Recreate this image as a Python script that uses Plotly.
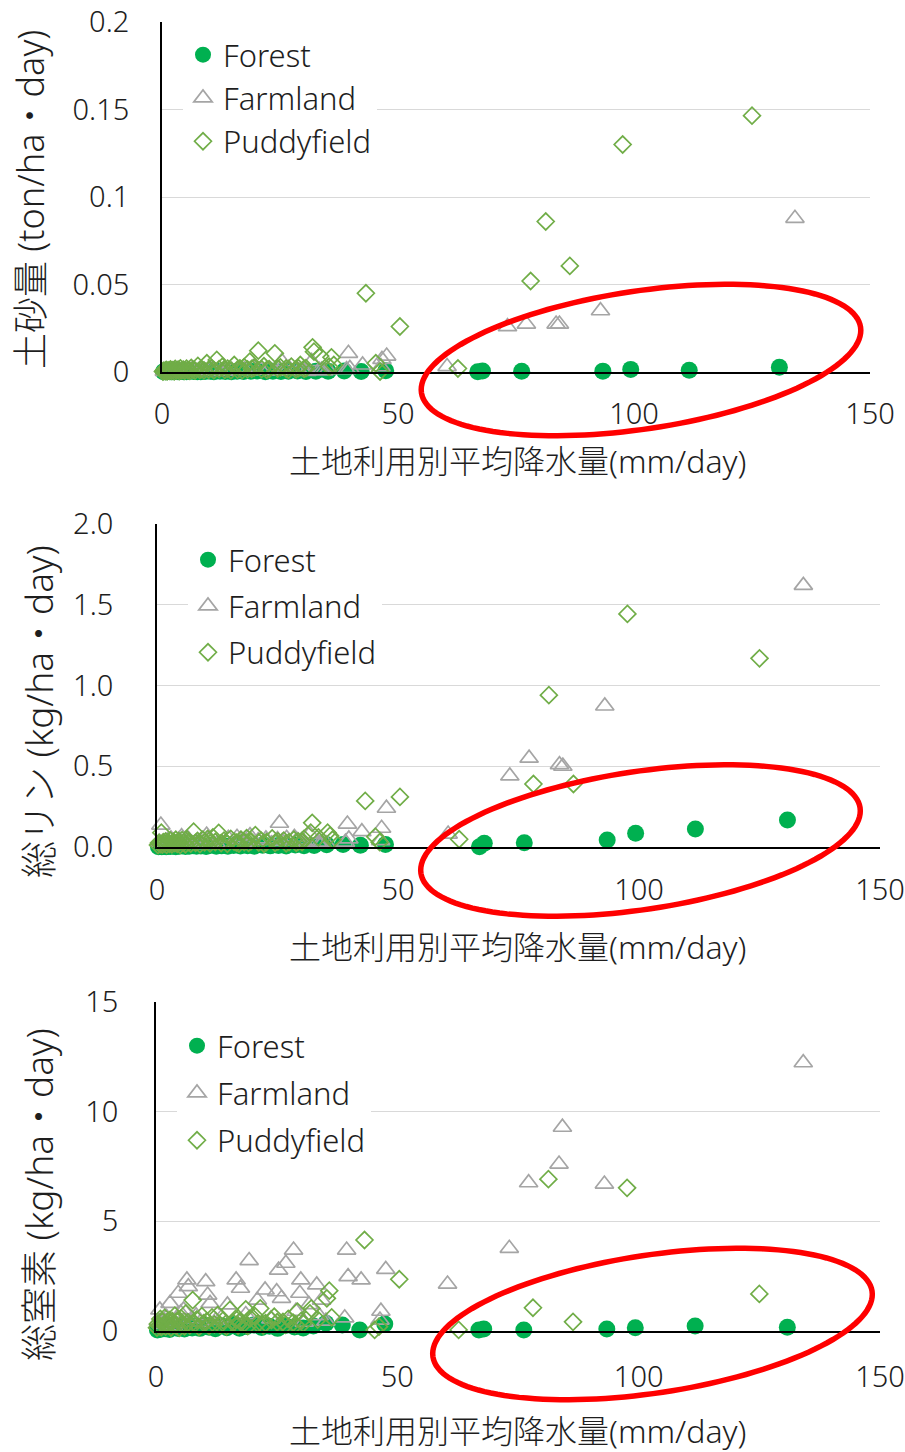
import numpy as np
import plotly.graph_objects as go

W, H = 905, 1452
FONT = "Noto Sans, Noto Sans CJK JP, sans-serif"
TEXT = "#1e1e1e"
WEIGHT = 300

# ---------------- data ----------------
# Forest: average rainfall (mm/day) and loads per event
forest_rain = [0.3, 0.7, 1.0, 1.4, 1.9, 2.3, 2.8, 3.4, 3.9, 4.6, 5.2, 5.9, 6.7, 7.5, 8.2,
               9.1, 10.2, 11.0, 12.3, 13.4, 14.7, 15.9, 17.3, 18.8, 20.2, 21.9, 23.5, 25.2,
               26.8, 28.7, 30.5, 32.6, 35.2, 38.6, 42.2, 47.4, 66.9, 67.9, 76.2, 93.4, 99.3,
               111.7, 130.8]
forest_sediment = [0.0001, 0.0002, 0.0001, 0.0003, 0.0002, 0.0001, 0.0004, 0.0002, 0.0003,
                   0.0001, 0.0002, 0.0004, 0.0003, 0.0002, 0.0001, 0.0003, 0.0005, 0.0002,
                   0.0004, 0.0003, 0.0002, 0.0005, 0.0003, 0.0004, 0.0006, 0.0002, 0.0005,
                   0.0003, 0.0004, 0.0006, 0.0003, 0.0005, 0.0004, 0.0006, 0.0003, 0.0007,
                   0.0002, 0.0006, 0.0004, 0.0005, 0.0015, 0.0010, 0.0027]
forest_tp = [0.001, 0.003, 0.002, 0.004, 0.002, 0.005, 0.003, 0.006, 0.002, 0.004, 0.007,
             0.003, 0.005, 0.008, 0.004, 0.006, 0.003, 0.009, 0.005, 0.007, 0.004, 0.010,
             0.006, 0.008, 0.005, 0.011, 0.007, 0.009, 0.006, 0.012, 0.008, 0.010, 0.014,
             0.016, 0.011, 0.015, 0.002, 0.023, 0.027, 0.043, 0.085, 0.111, 0.167]
forest_tn = [0.05, 0.12, 0.08, 0.18, 0.10, 0.22, 0.07, 0.15, 0.25, 0.11, 0.19, 0.09, 0.28,
             0.14, 0.21, 0.12, 0.26, 0.17, 0.10, 0.24, 0.15, 0.30, 0.13, 0.20, 0.27, 0.16,
             0.22, 0.12, 0.25, 0.18, 0.14, 0.23, 0.35, 0.27, 0.05, 0.32, 0.05, 0.09, 0.05,
             0.09, 0.15, 0.23, 0.17]

# Farmland
farm_rain = [0.5, 0.8, 1.5, 2.2, 2.9, 3.6, 4.6, 5.1, 5.7, 6.4, 6.7, 7.4, 8.3, 9.2, 10.3,
             10.7, 11.2, 12.4, 13.5, 14.8, 16.6, 17.5, 18.6, 19.3, 21.0, 22.6, 23.8, 25.0,
             25.4, 26.0, 26.9, 28.5, 29.0, 29.8, 30.0, 30.7, 31.7, 33.3, 33.8, 34.3, 35.2,
             39.1, 39.5, 39.8, 42.5, 46.4, 46.6, 47.6, 60.4, 73.2, 77.2, 83.5, 84.2, 92.9,
             134.1]
farm_sediment = [0.0004, 0.0010, 0.0003, 0.0006, 0.0008, 0.0002, 0.0012, 0.0009, 0.0005,
                 0.0015, 0.0011, 0.0004, 0.0006, 0.0003, 0.0016, 0.0010, 0.0007, 0.0004,
                 0.0005, 0.0009, 0.0018, 0.0013, 0.0006, 0.0025, 0.0011, 0.0014, 0.0005,
                 0.0012, 0.0060, 0.0010, 0.0022, 0.0015, 0.0008, 0.0009, 0.0012, 0.0004,
                 0.0060, 0.0011, 0.0010, 0.0007, 0.0012, 0.0013, 0.0107, 0.0020, 0.0040,
                 0.0030, 0.0072, 0.0091, 0.0031, 0.0259, 0.0274, 0.0274, 0.0274, 0.0350,
                 0.0878]
farm_tp = [0.03, 0.136, 0.02, 0.04, 0.05, 0.01, 0.045, 0.064, 0.03, 0.05, 0.04, 0.02, 0.03,
           0.015, 0.074, 0.05, 0.035, 0.02, 0.025, 0.054, 0.06, 0.045, 0.03, 0.07, 0.04,
           0.05, 0.02, 0.045, 0.147, 0.035, 0.054, 0.06, 0.043, 0.03, 0.04, 0.02, 0.08,
           0.03, 0.023, 0.025, 0.02, 0.03, 0.142, 0.05, 0.095, 0.04, 0.116, 0.24, 0.08,
           0.44, 0.55, 0.51, 0.50, 0.873, 1.62]
farm_tn = [0.45, 0.96, 0.30, 0.62, 1.26, 0.25, 1.72, 0.82, 0.96, 2.33, 2.02, 0.55, 0.70,
           0.40, 2.25, 1.64, 1.26, 0.48, 0.60, 1.19, 2.33, 1.95, 0.75, 3.21, 1.41, 1.87,
           0.55, 1.79, 2.78, 1.49, 3.09, 3.69, 0.90, 1.72, 2.33, 0.40, 1.20, 2.10, 0.70,
           1.41, 0.45, 0.60, 3.69, 2.48, 2.33, 0.50, 0.90, 2.81, 2.14, 3.77, 6.76, 7.61,
           9.29, 6.70, 12.23]

# Paddy field
paddy_rain = [0.2, 0.4, 0.7, 0.9, 1.1, 1.3, 1.6, 1.8, 2.0, 2.3,
              2.6, 2.8, 3.1, 3.4, 3.7, 3.9, 4.2, 4.5, 4.8, 5.2,
              5.5, 5.9, 6.2, 6.6, 7.0, 7.6, 8.0, 8.4, 8.9, 9.5,
              9.9, 10.5, 11.0, 11.6, 12.1, 12.8, 13.3, 13.9, 14.6, 15.3,
              16.0, 16.5, 17.0, 17.4, 18.1, 18.6, 19.0, 19.5, 20.4, 21.1,
              21.6, 22.2, 22.7, 23.9, 24.5, 25.1, 26.3, 26.8, 27.4, 28.4,
              28.9, 29.3, 30.1, 30.5, 31.9, 32.2, 33.5, 35.4, 35.9, 36.4,
              43.2, 45.3, 46.2, 50.4, 62.7, 78.1, 81.3, 86.4, 97.6, 125.0]
paddy_sediment = [0.0003, 0.0008, 0.0005, 0.0012, 0.0004, 0.0009, 0.0006, 0.0015, 0.0007, 0.0011,
                  0.0004, 0.0018, 0.0008, 0.0013, 0.0005, 0.0021, 0.0009, 0.0014, 0.0006, 0.0019,
                  0.0010, 0.0007, 0.0024, 0.0012, 0.0008, 0.0035, 0.0011, 0.0017, 0.0009, 0.0050,
                  0.0013, 0.0022, 0.0010, 0.0069, 0.0016, 0.0030, 0.0012, 0.0019, 0.0009, 0.0040,
                  0.0014, 0.0021, 0.0011, 0.0028, 0.0015, 0.0059, 0.0018, 0.0024, 0.0122, 0.0016,
                  0.0033, 0.0012, 0.0017, 0.0107, 0.0020, 0.0026, 0.0020, 0.0013, 0.0031, 0.0015,
                  0.0022, 0.0040, 0.0018, 0.0022, 0.0141, 0.0116, 0.0091, 0.0030, 0.0084, 0.0040,
                  0.0450, 0.0050, 0.0003, 0.0260, 0.0020, 0.0520, 0.0860, 0.0606, 0.1300, 0.1465]
paddy_tp = [0.012, 0.025, 0.018, 0.089, 0.015, 0.030, 0.022, 0.035, 0.014, 0.028,
            0.020, 0.040, 0.016, 0.032, 0.024, 0.045, 0.019, 0.036, 0.013, 0.042,
            0.027, 0.017, 0.048, 0.030, 0.021, 0.095, 0.026, 0.038, 0.018, 0.045,
            0.029, 0.050, 0.022, 0.060, 0.031, 0.087, 0.024, 0.040, 0.019, 0.050,
            0.033, 0.027, 0.021, 0.045, 0.030, 0.055, 0.025, 0.035, 0.074, 0.028,
            0.040, 0.020, 0.030, 0.054, 0.026, 0.035, 0.040, 0.022, 0.030, 0.045,
            0.025, 0.035, 0.030, 0.050, 0.089, 0.150, 0.060, 0.089, 0.070, 0.045,
            0.285, 0.064, 0.030, 0.310, 0.048, 0.390, 0.940, 0.390, 1.443, 1.168]
paddy_tn = [0.15, 0.32, 0.22, 0.55, 0.18, 0.42, 0.28, 0.60, 0.20, 0.38,
            0.25, 0.50, 0.16, 0.45, 0.30, 0.70, 0.24, 0.48, 0.14, 0.58,
            0.35, 0.21, 0.80, 0.40, 0.26, 1.41, 0.33, 0.52, 0.19, 0.68,
            0.36, 0.44, 0.23, 0.62, 0.30, 0.73, 0.27, 0.48, 0.20, 0.96,
            0.37, 0.55, 0.25, 0.44, 0.31, 0.99, 0.22, 0.58, 0.70, 0.34,
            1.03, 0.26, 0.36, 0.50, 0.65, 0.40, 0.42, 0.28, 0.55, 0.38,
            0.30, 0.88, 0.46, 0.35, 0.80, 1.03, 0.52, 1.49, 1.84, 0.62,
            4.15, 0.05, 0.20, 2.36, 0.05, 1.06, 6.92, 0.42, 6.53, 1.69]

# ---------------- panel layout (pixels) ----------------
panels = [
    dict(forest=forest_sediment, farm=farm_sediment, paddy=paddy_sediment,
         yrange=[0, 0.2], dtick=0.05, fmt="",
         ytitle="土砂量 (ton/ha・day)", ytitle_size=36,
         left=162, right=870, top=22, bottom=372,
         ytitle_xy=(30, 200), xtitle_y=460,
         ystand=25, xstand=15,
         legend_xy=(183, 28), legend_gap=0,
         ring=(641, 360)),
    dict(forest=forest_tp, farm=farm_tp, paddy=paddy_tp,
         yrange=[0, 2.0], dtick=0.5, fmt=".1f",
         ytitle="総リン (kg/ha・day)", ytitle_size=37,
         left=157, right=880, top=524, bottom=847,
         ytitle_xy=(38, 712), xtitle_y=946,
         ystand=36, xstand=16,
         legend_xy=(188, 533), legend_gap=3,
         ring=(640.5, 840.5)),
    dict(forest=forest_tn, farm=farm_tn, paddy=paddy_tn,
         yrange=[0, 15], dtick=5, fmt="",
         ytitle="総窒素 (kg/ha・day)", ytitle_size=37,
         left=156, right=880, top=1002, bottom=1331,
         ytitle_xy=(38, 1195), xtitle_y=1430,
         ystand=30, xstand=19,
         legend_xy=(177, 1019), legend_gap=4,
         ring=(652.5, 1324)),
]

RING_A, RING_B, RING_ROT = 222, 69, -8.5


def px_x(v):
    return v / W


def px_y(v):
    return 1 - v / H


def ring_path(cx, cy):
    t = np.linspace(0, 2 * np.pi, 145)
    th = np.radians(RING_ROT)
    xs = cx + RING_A * np.cos(t) * np.cos(th) - RING_B * np.sin(t) * np.sin(th)
    ys = cy + RING_A * np.cos(t) * np.sin(th) + RING_B * np.sin(t) * np.cos(th)
    pts = [f"{px_x(a):.5f},{px_y(b):.5f}" for a, b in zip(xs, ys)]
    return "M" + " L".join(pts) + " Z"


def font(size):
    return dict(size=size, family=FONT, color=TEXT, weight=WEIGHT)


fig = go.Figure()
layout = dict(
    width=W, height=H, autosize=False,
    margin=dict(l=0, r=0, t=0, b=0, autoexpand=False),
    paper_bgcolor="white", plot_bgcolor="white",
    font=dict(family=FONT, color=TEXT),
    showlegend=True,
    annotations=[], shapes=[],
)

for i, p in enumerate(panels):
    n = "" if i == 0 else str(i + 1)
    xa, ya, leg = "x" + n, "y" + n, "legend" + n
    common = dict(mode="markers", xaxis=xa, yaxis=ya, legend=leg, cliponaxis=False)
    fig.add_trace(go.Scatter(
        x=forest_rain, y=p["forest"], name="Forest", legendgroup=f"forest{i}",
        marker=dict(symbol="circle", size=17, color="#00B050", line=dict(width=0)),
        **common))
    fig.add_trace(go.Scatter(
        x=farm_rain, y=p["farm"], name="Farmland", legendgroup=f"farm{i}",
        marker=dict(symbol="triangle-up-open", size=16, color="#A5A5A5",
                    line=dict(width=1.7, color="#A5A5A5")),
        **common))
    fig.add_trace(go.Scatter(
        x=paddy_rain, y=p["paddy"], name="Puddyfield", legendgroup=f"paddy{i}",
        marker=dict(symbol="diamond-open", size=13, color="#70AD47",
                    line=dict(width=1.7, color="#70AD47")),
        **common))

    layout["xaxis" + n] = dict(
        domain=[px_x(p["left"]), px_x(p["right"])], anchor=ya,
        range=[0, 150], tick0=0, dtick=50, showgrid=False, zeroline=False,
        showline=True, linecolor="#000000", linewidth=1.8, ticks="",
        ticklabelstandoff=p["xstand"], tickfont=font(29))
    layout["yaxis" + n] = dict(
        domain=[px_y(p["bottom"]), px_y(p["top"])], anchor=xa,
        range=p["yrange"], tick0=0, dtick=p["dtick"], tickformat=p["fmt"],
        showgrid=True, gridcolor="#D9D9D9", gridwidth=1.3, zeroline=False,
        showline=True, linecolor="#000000", linewidth=1.8, ticks="",
        ticklabelstandoff=p["ystand"], tickfont=font(29))
    layout[leg] = dict(
        x=px_x(p["legend_xy"][0]), y=px_y(p["legend_xy"][1]),
        xanchor="left", yanchor="top", bgcolor="white", borderwidth=0,
        tracegroupgap=p["legend_gap"], itemsizing="trace", font=font(31))

    layout["annotations"].append(dict(
        text=p["ytitle"], textangle=-90, showarrow=False,
        xref="paper", yref="paper",
        x=px_x(p["ytitle_xy"][0]), y=px_y(p["ytitle_xy"][1]),
        xanchor="center", yanchor="middle", font=font(p["ytitle_size"])))
    layout["annotations"].append(dict(
        text="土地利用別平均降水量(mm/day)", showarrow=False,
        xref="paper", yref="paper",
        x=px_x(517), y=px_y(p["xtitle_y"]),
        xanchor="center", yanchor="middle", font=font(32)))

    # red highlight ring around the high-rainfall forest events
    layout["shapes"].append(dict(
        type="path", path=ring_path(*p["ring"]), xref="paper", yref="paper",
        line=dict(color="#FF0000", width=5.5), fillcolor="rgba(0,0,0,0)",
        layer="above"))

fig.update_layout(**layout)
fig.write_html("out.html")
